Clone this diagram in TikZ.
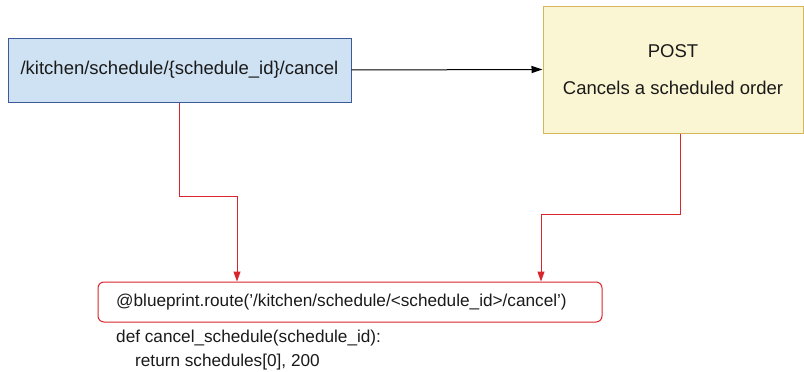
\documentclass[tikz,border=0pt]{standalone}
\usepackage{fontspec}
\setmainfont{Liberation Sans}
\usetikzlibrary{arrows.meta,calc,positioning}
\definecolor{routeBlue}{HTML}{CFE2F3}
\definecolor{routeBlueLine}{HTML}{3D5A99}
\definecolor{verbYellow}{HTML}{FAF6D3}
\definecolor{verbYellowLine}{HTML}{D7B659}
\definecolor{hookRed}{HTML}{D9262C}
\definecolor{codeInk}{HTML}{1A1A1A}
\begin{document}
\begin{tikzpicture}[x=1pt,y=-1pt,>=Latex,line join=miter]
\useasboundingbox (0,0) rectangle (804,372);
\tikzset{urlbox/.style={draw=routeBlueLine,fill=routeBlue,line width=1pt,minimum width=343pt,minimum height=64pt,inner sep=0pt,font=\fontsize{18.5}{22}\selectfont,text=codeInk},verbbox/.style={draw=verbYellowLine,fill=verbYellow,line width=1pt,minimum width=260pt,minimum height=127pt,inner sep=0pt,align=center,font=\fontsize{18.5}{22}\selectfont,text=codeInk},hookbox/.style={draw=hookRed,rounded corners=6pt,line width=1pt,minimum width=504pt,minimum height=40pt,inner sep=0pt},codeline/.style={anchor=west,inner sep=0pt,font=\fontsize{17.2}{20}\selectfont,text=codeInk},redwire/.style={draw=hookRed,line width=1pt,-{Triangle[width=7pt,length=10pt]}}}
\node[urlbox] (url) at (179.5,70) {/kitchen/schedule/\{schedule\_id\}/cancel};
\node[verbbox] (verb) at (673,69.5) {POST\\[15pt]Cancels a scheduled order};
\node[hookbox] (hook) at (350,302) {};
\node[codeline] (deco) at (116,302) {@blueprint.route('/kitchen/schedule/<schedule\_id>/cancel')};
\node[codeline] (defn) at (116,338) {def cancel\_schedule(schedule\_id):};
\node[codeline] (ret) at (135,362) {return schedules[0], 200};
\coordinate (urlbend) at (179.5,196);
\coordinate (verbbend) at (680,214);
\draw[line width=1pt,-{Triangle[width=7pt,length=11pt]}] (url.east) -- (verb.west);
\draw[redwire] (url.south) -- (urlbend) -- (urlbend -| 237,0) -- (hook.north -| 237,0);
\draw[redwire] (verb.south -| verbbend) -- (verbbend) -- (verbbend -| 541,0) -- (hook.north -| 541,0);
\end{tikzpicture}
\end{document}
